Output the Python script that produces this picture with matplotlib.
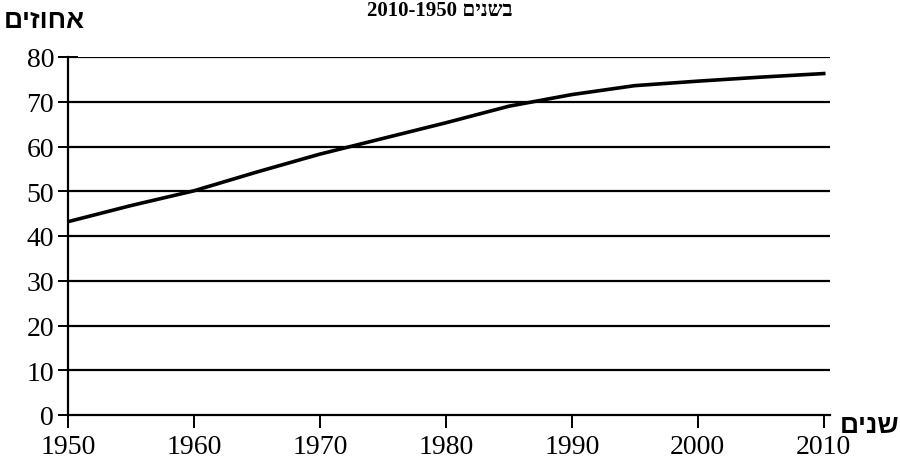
import matplotlib
matplotlib.use("Agg")
from matplotlib import pyplot as plt

# data
years = [1950, 1955, 1960, 1965, 1970, 1975, 1980, 1985, 1990, 1995, 2000, 2005, 2010]
percent = [43.2, 46.8, 50.1, 54.3, 58.3, 61.8, 65.3, 69.0, 71.6, 73.6, 74.6, 75.5, 76.3]

x_ticks = [1950, 1960, 1970, 1980, 1990, 2000, 2010]
y_ticks = [0, 10, 20, 30, 40, 50, 60, 70, 80]

# hebrew is drawn left to right by matplotlib, so flip the letters
title_text = "2010-1950 " + "בשנים"[::-1]
y_label = "אחוזים"[::-1]
x_label = "שנים"[::-1]

serif = ["Liberation Serif", "DejaVu Serif", "DejaVu Sans"]
sans = ["Liberation Sans", "DejaVu Sans"]

fig = plt.figure(figsize=(9, 4.64), dpi=100)
ax = fig.add_axes([68 / 900, 48 / 464, 762 / 900, 358 / 464])

# horizontal grid lines every 10
for v in y_ticks[1:]:
    ax.axhline(v, color="black", lw=1.6, zorder=1)

ax.plot(years, percent, color="black", lw=2.6, zorder=3)

ax.set_xlim(1950, 2010.5)
ax.set_ylim(0, 80)
ax.set_xticks(x_ticks)
ax.set_yticks(y_ticks)
ax.set_xticklabels([str(t) for t in x_ticks], family=serif, fontsize=20)
ax.set_yticklabels([str(t) for t in y_ticks], family=serif, fontsize=20)
ax.tick_params(axis="x", direction="out", length=9, width=1.4, pad=5)
ax.tick_params(axis="y", direction="inout", length=14, width=1.4, pad=3)

ax.spines["top"].set_visible(False)
ax.spines["right"].set_visible(False)
ax.spines["left"].set_linewidth(1.6)
ax.spines["bottom"].set_linewidth(1.6)

fig.text(4 / 900, 1 - 21 / 464, y_label, family=sans, fontweight="bold",
         fontsize=19, ha="left", va="center")
fig.text(899 / 900, 1 - 426 / 464, x_label, family=sans, fontweight="bold",
         fontsize=19, ha="right", va="center")
fig.text(440 / 900, 1 - 1 / 464, title_text, family=serif, fontweight="bold",
         fontsize=15, ha="center", va="top")

plt.savefig("out.png", dpi=100)
plt.close()
